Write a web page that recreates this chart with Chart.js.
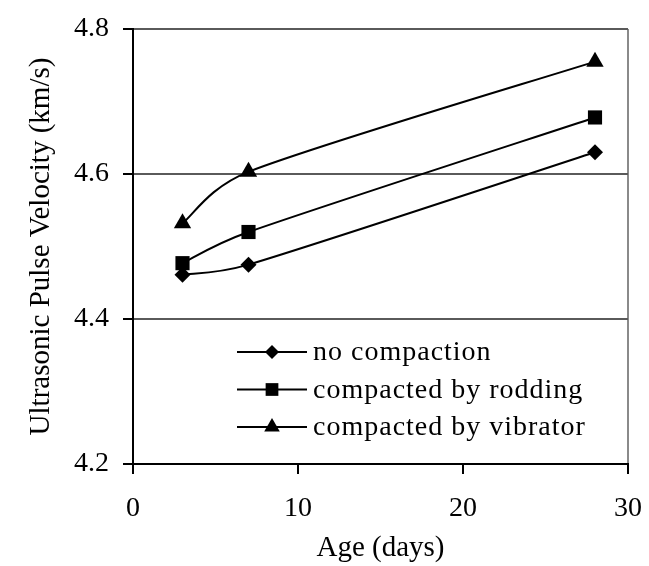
<!DOCTYPE html>
<html>
<head>
<meta charset="utf-8">
<script src="https://cdn.jsdelivr.net/npm/chart.js@4/dist/chart.umd.min.js"></script>
<style>
  html, body { margin: 0; padding: 0; background: #fff; }
  #wrap { width: 649px; height: 566px; position: relative; }
</style>
</head>
<body>
<div id="wrap"><canvas id="c" width="649" height="566"></canvas></div>
<script>
// Age of specimens (days)
const ages = [3, 7, 28];
// Ultrasonic pulse velocity (km/s) for each compaction method
const noCompaction = [4.461, 4.475, 4.630];
const rodding      = [4.477, 4.520, 4.678];
const vibrator     = [4.532, 4.603, 4.755];

const seriesLabels = ['no compaction', 'compacted by rodding', 'compacted by vibrator'];
const seriesMarkers = ['rectRot', 'rect', 'triangle'];
const markerSizes = [8, 10, 10];

const yTicks = [4.2, 4.4, 4.6, 4.8];
const xTicks = [0, 10, 20, 30];

const FONT = "'Liberation Serif', 'Times New Roman', serif";

function toPoints(values) {
  return ages.map((a, i) => ({ x: a, y: values[i] }));
}

const allSeries = [noCompaction, rodding, vibrator];
const datasets = allSeries.map((vals, i) => ({
  label: seriesLabels[i],
  data: toPoints(vals),
  borderColor: '#000',
  backgroundColor: '#000',
  borderWidth: 2,
  showLine: false,
  pointStyle: seriesMarkers[i],
  pointRadius: markerSizes[i],
  pointBackgroundColor: '#000',
  pointBorderColor: '#000',
  pointBorderWidth: 0,
  fill: false
}));

// Smoothed connecting lines: cubic Bezier through the point elements.
// Handles follow the neighbour-to-neighbour direction, length one sixth of
// that span, but never longer than half of the segment they belong to.
function handle(dirA, dirB, chord) {
  const dx = (dirB.x - dirA.x) / 6;
  const dy = (dirB.y - dirA.y) / 6;
  const len = Math.hypot(dx, dy);
  const cap = chord / 2;
  const k = len > cap && len > 0 ? cap / len : 1;
  return { dx: dx * k, dy: dy * k };
}

const smoothLines = {
  id: 'smoothLines',
  beforeDatasetsDraw(chart) {
    const ctx = chart.ctx;
    const area = chart.chartArea;
    ctx.save();
    ctx.beginPath();
    ctx.rect(area.left, area.top, area.right - area.left, area.bottom - area.top);
    ctx.clip();
    ctx.strokeStyle = '#000';
    ctx.lineWidth = 2;
    ctx.lineJoin = 'round';
    chart.data.datasets.forEach((ds, di) => {
      const pts = chart.getDatasetMeta(di).data.map(p => ({ x: p.x, y: p.y }));
      const n = pts.length;
      if (n < 2) return;
      ctx.beginPath();
      ctx.moveTo(pts[0].x, pts[0].y);
      for (let i = 0; i < n - 1; i++) {
        const p0 = pts[Math.max(i - 1, 0)];
        const p1 = pts[i];
        const p2 = pts[i + 1];
        const p3 = pts[Math.min(i + 2, n - 1)];
        const chord = Math.hypot(p2.x - p1.x, p2.y - p1.y);
        const h1 = handle(p0, p2, chord);
        const h2 = handle(p1, p3, chord);
        ctx.bezierCurveTo(p1.x + h1.dx, p1.y + h1.dy, p2.x - h2.dx, p2.y - h2.dy, p2.x, p2.y);
      }
      ctx.stroke();
    });
    ctx.restore();
  }
};

// Legend drawn inside the plot area
const innerLegend = {
  id: 'innerLegend',
  afterDraw(chart) {
    const ctx = chart.ctx;
    const area = chart.chartArea;
    const x0 = area.left + 104;
    const lineLen = 70;
    ctx.save();
    ctx.font = '28px ' + FONT;
    ctx.textBaseline = 'middle';
    ctx.fillStyle = '#000';
    try { ctx.letterSpacing = '1px'; } catch (e) {}
    chart.data.datasets.forEach((ds, i) => {
      const y = area.top + 323 + i * 37.5;
      ctx.strokeStyle = '#000';
      ctx.lineWidth = 2;
      ctx.beginPath();
      ctx.moveTo(x0, y);
      ctx.lineTo(x0 + lineLen, y);
      ctx.stroke();
      ctx.fillStyle = '#000';
      Chart.helpers.drawPoint(ctx, {
        pointStyle: ds.pointStyle, radius: ds.pointRadius - 1, rotation: 0, borderWidth: 0
      }, x0 + lineLen / 2, y);
      ctx.fillStyle = '#000';
      ctx.fillText(ds.label, x0 + lineLen + 6, y + 1);
    });
    ctx.restore();
  }
};

new Chart(document.getElementById('c'), {
  type: 'line',
  data: { datasets },
  options: {
    responsive: false,
    animation: false,
    events: [],
    layout: { padding: { left: 0, top: 29, right: 21, bottom: 0 } },
    plugins: {
      legend: { display: false },
      tooltip: { enabled: false }
    },
    scales: {
      x: {
        type: 'linear',
        min: xTicks[0],
        max: xTicks[xTicks.length - 1],
        afterBuildTicks(axis) { axis.ticks = xTicks.map(v => ({ value: v })); },
        afterFit(axis) {
          axis.height = 102;
          axis.paddingLeft = 0;
          axis.paddingRight = 0;
        },
        ticks: {
          color: '#000',
          font: { family: FONT, size: 28 },
          padding: 18,
          maxRotation: 0
        },
        grid: {
          drawOnChartArea: true,
          color: (c) => (c.tick && c.tick.value === 30 ? '#8a8a8a' : 'rgba(0,0,0,0)'),
          tickColor: '#000',
          tickLength: 10,
          lineWidth: 2
        },
        border: { display: true, color: '#000', width: 2 },
        title: {
          display: true,
          text: 'Age (days)',
          color: '#000',
          font: { family: FONT, size: 29 },
          padding: { top: 0, bottom: 0 }
        }
      },
      y: {
        min: yTicks[0],
        max: yTicks[yTicks.length - 1],
        afterBuildTicks(axis) { axis.ticks = yTicks.map(v => ({ value: v })); },
        afterFit(axis) {
          axis.width = 133;
          axis.paddingTop = 0;
          axis.paddingBottom = 0;
        },
        ticks: {
          color: '#000',
          font: { family: FONT, size: 28 },
          padding: 14,
          callback: (v) => Number(v).toFixed(1)
        },
        grid: {
          drawOnChartArea: true,
          color: (c) => (c.tick && c.tick.value === 4.2 ? 'rgba(0,0,0,0)' : '#5a5a5a'),
          tickColor: '#000',
          tickLength: 10,
          lineWidth: 2
        },
        border: { display: true, color: '#000', width: 2 },
        title: {
          display: true,
          text: 'Ultrasonic Pulse Velocity (km/s)',
          color: '#000',
          font: { family: FONT, size: 29 },
          padding: { top: 24, bottom: 0 }
        }
      }
    }
  },
  plugins: [smoothLines, innerLegend]
});
</script>
</body>
</html>
